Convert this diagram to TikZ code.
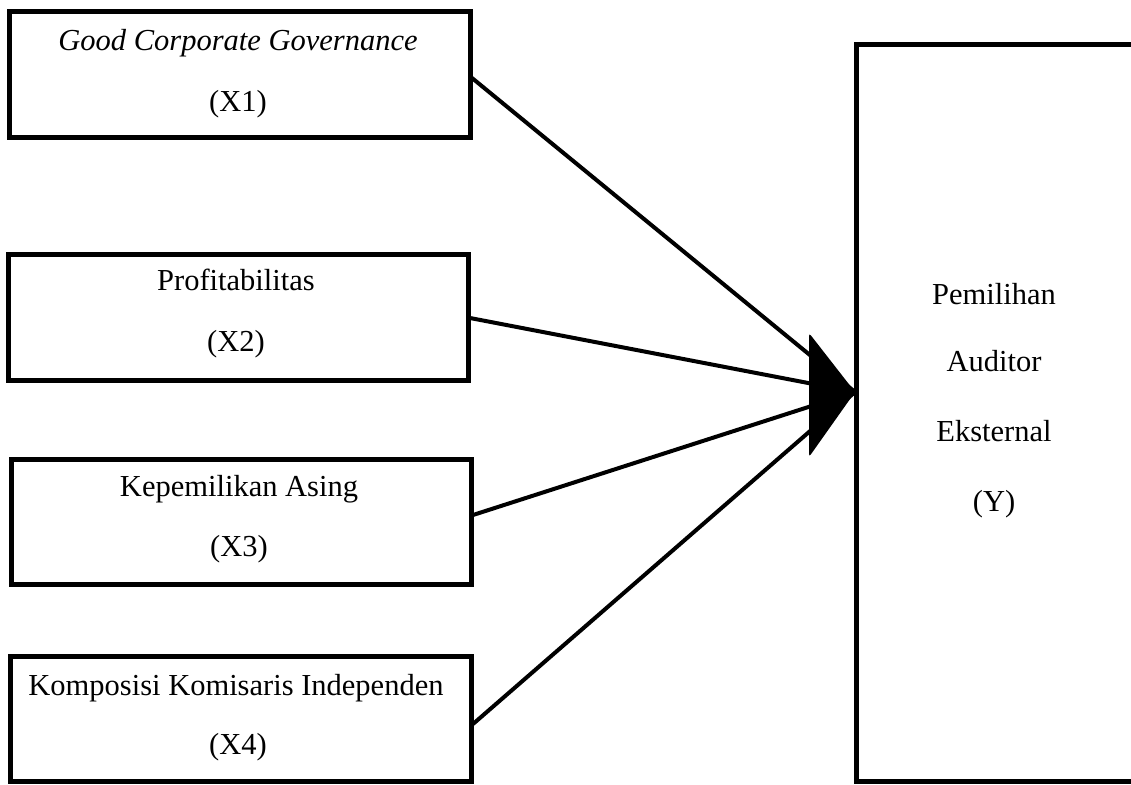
\documentclass[tikz,border=0pt]{standalone}
\usepackage{fontspec}
\setmainfont{Liberation Serif}
\begin{document}
\begin{tikzpicture}[x=1pt,y=-1pt,
  varbox/.style={draw=black,line width=5pt,line join=miter},
  lbl/.style={font=\fontsize{30.5}{36}\selectfont,inner sep=0pt,anchor=base},
  conn/.style={line width=4pt}]
\useasboundingbox (0,0) rectangle (1131,784);
\clip (0,0) rectangle (1131,784);
% boxes
\draw[varbox] (9,12) rectangle (470,137);
\draw[varbox] (8,254) rectangle (468,380);
\draw[varbox] (11,459) rectangle (471,584);
\draw[varbox] (10,656) rectangle (471,781);
\draw[varbox] (856,45) rectangle (1160,781);
\coordinate (b1) at (472,78);
\coordinate (b2) at (470,318);
\coordinate (b3) at (473,515);
\coordinate (b4) at (473,724);
\coordinate (tip) at (855,392);
% texts
\node[lbl] (t1a) at (238,51) {\textit{Good Corporate Governance}};
\node[lbl] (t1b) at (238,111) {(X1)};
\node[lbl] (t2a) at (236,290) {Profitabilitas};
\node[lbl] (t2b) at (236,351) {(X2)};
\node[lbl] (t3a) at (239,496) {Kepemilikan Asing};
\node[lbl] (t3b) at (239,556) {(X3)};
\node[lbl] (t4a) at (236,695) {Komposisi Komisaris Independen};
\node[lbl] (t4b) at (238,754) {(X4)};
\node[lbl] (ya) at (994,304) {Pemilihan};
\node[lbl] (yb) at (994,371) {Auditor};
\node[lbl] (yc) at (994,441) {Eksternal};
\node[lbl] (yd) at (994,511) {(Y)};
% connectors
\draw[conn] (b1) -- (tip);
\draw[conn] (b2) -- (tip);
\draw[conn] (b3) -- (tip);
\draw[conn] (b4) -- (tip);
\fill[rounded corners=3pt] (809,333) -- (855,392) -- (809,457) -- cycle;
\end{tikzpicture}
\end{document}
